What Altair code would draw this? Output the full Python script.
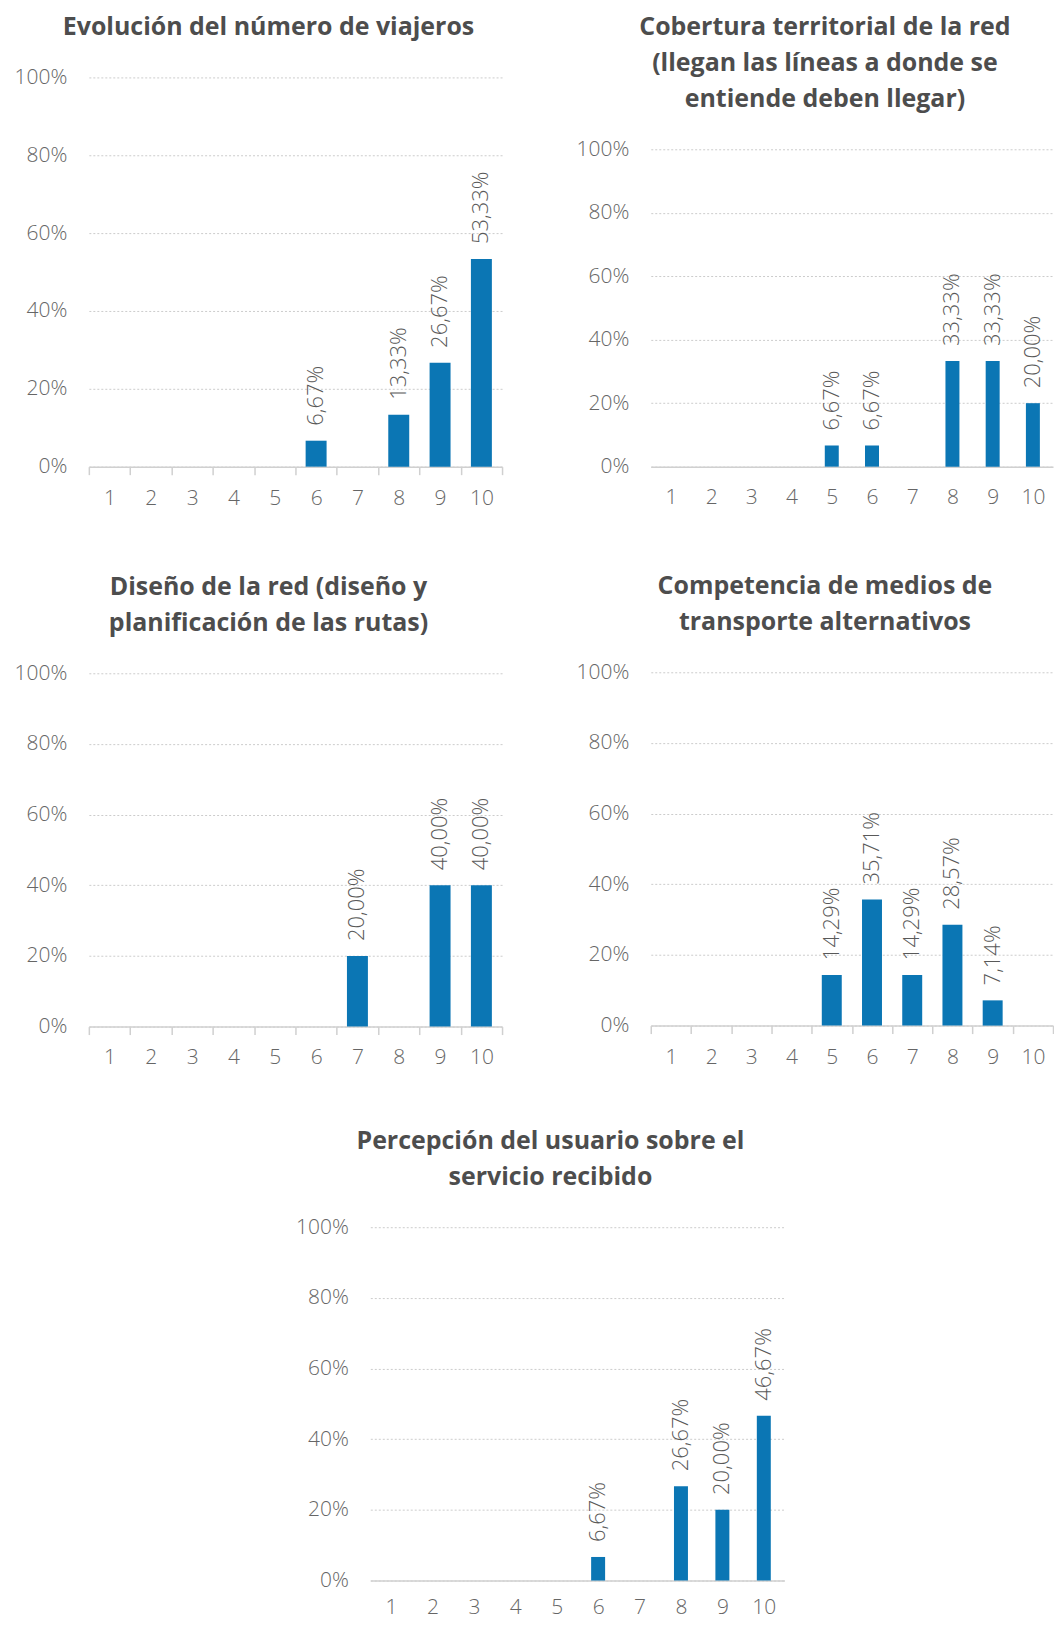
import altair as alt
import pandas as pd

# ---- data -------------------------------------------------------------
scores = [1, 2, 3, 4, 5, 6, 7, 8, 9, 10]

title_viajeros = ["Evolución del número de viajeros"]
vals_viajeros = [0, 0, 0, 0, 0, 6.67, 0, 13.33, 26.67, 53.33]

title_cobertura = ["Cobertura territorial de la red",
                   "(llegan las líneas a donde se",
                   "entiende deben llegar)"]
vals_cobertura = [0, 0, 0, 0, 6.67, 6.67, 0, 33.33, 33.33, 20.00]

title_diseno = ["Diseño de la red (diseño y",
                "planificación de las rutas)"]
vals_diseno = [0, 0, 0, 0, 0, 0, 20.00, 0, 40.00, 40.00]

title_competencia = ["Competencia de medios de",
                     "transporte alternativos"]
vals_competencia = [0, 0, 0, 0, 14.29, 35.71, 14.29, 28.57, 7.14, 0]

title_percepcion = ["Percepción del usuario sobre el",
                    "servicio recibido"]
vals_percepcion = [0, 0, 0, 0, 0, 6.67, 0, 26.67, 20.00, 46.67]

y_ticks = [0, 20, 40, 60, 80, 100]

# ---- style ------------------------------------------------------------
BLUE = "#0b76b4"
FONT = "Open Sans"
TITLE_COLOR = "#4d4d4d"
LABEL_COLOR = "#666666"
GRID_COLOR = "#cccccc"


def panel(title, vals, width, height, bar_size, ticks, extent, lab_pad):
    df = pd.DataFrame({"score": scores, "val": vals})
    x = alt.X(
        "score:O",
        scale=alt.Scale(domain=scores, paddingInner=0, paddingOuter=0),
        axis=alt.Axis(
            title=None, labelAngle=0, grid=False,
            domain=True, domainColor="#d0d0d0", domainWidth=1.5,
            ticks=ticks, tickBand="extent", tickColor="#d0d0d0",
            tickWidth=1.5, tickSize=8 if ticks else 0,
            labelPadding=lab_pad,
            labelFont=FONT, labelFontSize=21, labelFontWeight=300,
            labelColor=LABEL_COLOR,
        ),
    )
    y = alt.Y(
        "val:Q",
        scale=alt.Scale(domain=[0, 100], nice=False),
        axis=alt.Axis(
            title=None, values=y_ticks, labelExpr="datum.value + '%'",
            domain=False, ticks=False, grid=True,
            gridDash=[2, 2], gridColor=GRID_COLOR, gridWidth=1,
            labelPadding=22, minExtent=extent, maxExtent=extent,
            labelFont=FONT, labelFontSize=21, labelFontWeight=300,
            labelColor=LABEL_COLOR,
        ),
    )
    base = alt.Chart(df).transform_filter("datum.val > 0").encode(x=x, y=y)
    bars = base.mark_bar(size=bar_size, color=BLUE)
    labels = base.transform_calculate(
        lab="replace(format(datum.val, '.2f'), '.', ',') + '%'"
    ).mark_text(
        angle=270, align="left", baseline="middle", dx=15,
        font=FONT, fontSize=22, fontWeight=300, color="#595959",
    ).encode(text="lab:N")
    return alt.layer(bars, labels).properties(
        width=width, height=height,
        title=alt.TitleParams(
            text=title, anchor="middle", frame="group", dx=-27,
            font=FONT, fontSize=25, fontWeight="bold", color=TITLE_COLOR,
            lineHeight=36, offset=26,
        ),
    )


def spacer(w=10):
    return alt.Chart(pd.DataFrame({"s": [0]})).mark_point(
        opacity=0, size=1
    ).encode(x=alt.value(0), y=alt.value(0)).properties(width=w, height=1)


p1 = panel(title_viajeros, vals_viajeros, 414, 390, 21, True, 81, 13)
p2 = panel(title_cobertura, vals_cobertura, 403, 318, 14, False, 81, 20)
p3 = panel(title_diseno, vals_diseno, 414, 354, 21, True, 81, 12)
p4 = panel(title_competencia, vals_competencia, 403, 354, 20, True, 81, 13)
p5 = panel(title_percepcion, vals_percepcion, 415, 354, 14, False, 81, 16)

col1 = alt.vconcat(spacer(), alt.vconcat(p1, p3, spacing=67), spacing=0)
col2 = alt.vconcat(spacer(), alt.vconcat(p2, p4, spacing=67), spacing=0)
top = alt.hconcat(col1, col2, spacing=67)
row3 = alt.hconcat(spacer(201), p5, spacing=0)

chart = alt.vconcat(top, row3, spacing=62).properties(
    padding={"top": 4, "left": 0, "right": 0, "bottom": 0}
).configure(font=FONT).configure_view(stroke=None)

chart.save("out.html", embed_options={"renderer": "svg", "actions": False})
